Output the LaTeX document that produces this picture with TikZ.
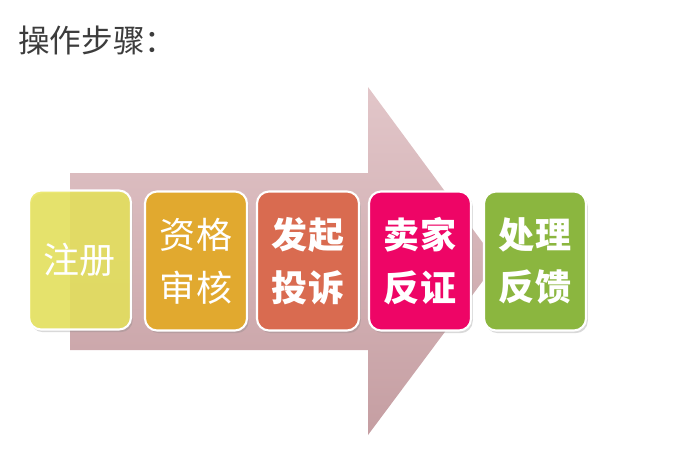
\documentclass[tikz,border=0pt]{standalone}
\usepackage{fontspec}
\newfontfamily\cjk{Noto Sans CJK SC}
\usetikzlibrary{shadows}
\definecolor{titlegray}{HTML}{3C3C3C}
\definecolor{arrowtop}{HTML}{E2C6C9}
\definecolor{arrowbot}{HTML}{C59EA2}
\definecolor{regyellow}{HTML}{E8E45A}
\definecolor{checkorange}{HTML}{E1A92F}
\definecolor{complainred}{HTML}{D96B50}
\definecolor{sellerpink}{HTML}{EE0566}
\definecolor{resultgreen}{HTML}{8BB63F}

\begin{document}
\begin{tikzpicture}[x=0.02cm, y=-0.02cm,
    stage/.style={rounded corners=0.24cm, draw=white, line width=1.2pt,
        minimum width=2.04cm, minimum height=2.78cm, inner sep=0pt,
        align=center, text=white, font=\cjk\bfseries\fontsize{20.5}{30}\selectfont,
        drop shadow={opacity=0.3, shadow xshift=1pt, shadow yshift=-1.5pt}}]
    \useasboundingbox (0,0) rectangle (690,457);

    % title
    \node[anchor=west, text=titlegray, font=\cjk\fontsize{18}{20}\selectfont, inner sep=0pt] (title) at (18,40) {操作步骤：};

    % big arrow behind the steps
    \path[top color=arrowtop, bottom color=arrowbot]
        (70,173) -- (368,173) -- (368,87) -- (497,262) -- (368,435) -- (368,350) -- (70,350) -- cycle;

    % steps
    \node[stage, fill=regyellow, fill opacity=0.85, text opacity=1, font=\cjk\fontsize{20.5}{30}\selectfont] (reg) at (80,260) {注册};
    \node[stage, fill=checkorange, font=\cjk\fontsize{20.5}{30}\selectfont] (check) at (196,261) {资格\\审核};
    \node[stage, fill=complainred] (complain) at (308,261) {发起\\投诉};
    \node[stage, fill=sellerpink] (seller) at (420,261) {卖家\\反证};
    \node[stage, fill=resultgreen] (result) at (535,261) {处理\\反馈};
\end{tikzpicture}
\end{document}
